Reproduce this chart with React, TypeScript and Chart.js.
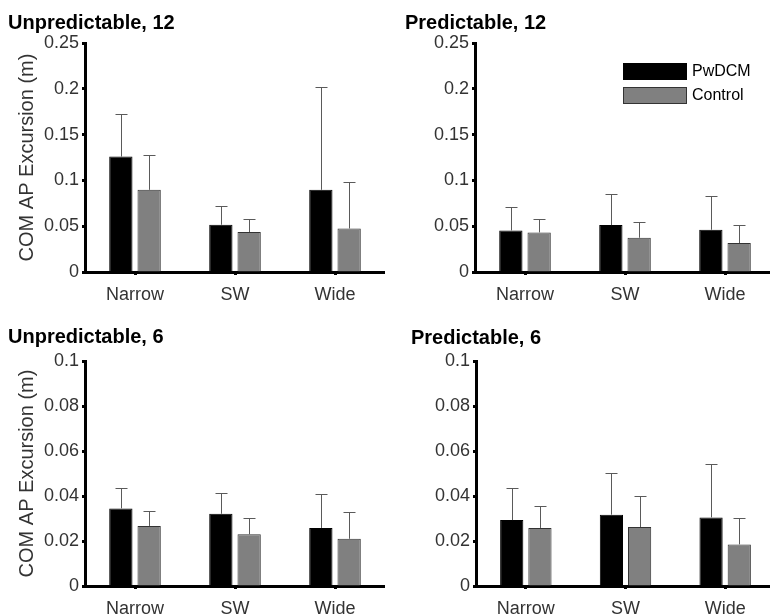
import React, { useEffect, useRef } from 'react';
import { Chart, registerables } from 'chart.js';

Chart.register(...registerables);

const FONT = '"Liberation Sans", Arial, Helvetica, sans-serif';

// ---- data ----
const categories = ['Narrow', 'SW', 'Wide'];
const seriesNames = ['PwDCM', 'Control'];

const yTicks12 = [0, 0.05, 0.1, 0.15, 0.2, 0.25];
const yTicks6 = [0, 0.02, 0.04, 0.06, 0.08, 0.1];

// Unpredictable, 12
const unpred12PwDCM = [0.126, 0.0516, 0.0897];
const unpred12PwDCMErr = [0.047, 0.02, 0.112];
const unpred12Control = [0.0897, 0.0436, 0.0475];
const unpred12ControlErr = [0.038, 0.014, 0.051];

// Predictable, 12
const pred12PwDCM = [0.0454, 0.0512, 0.0461];
const pred12PwDCMErr = [0.0255, 0.0342, 0.0368];
const pred12Control = [0.0432, 0.0374, 0.0316];
const pred12ControlErr = [0.0149, 0.0175, 0.0196];

// Unpredictable, 6
const unpred6PwDCM = [0.0345, 0.0321, 0.0258];
const unpred6PwDCMErr = [0.0092, 0.0091, 0.0149];
const unpred6Control = [0.0267, 0.023, 0.021];
const unpred6ControlErr = [0.0068, 0.0071, 0.0119];

// Predictable, 6
const pred6PwDCM = [0.0293, 0.0317, 0.0305];
const pred6PwDCMErr = [0.0143, 0.0184, 0.0239];
const pred6Control = [0.0258, 0.0262, 0.0185];
const pred6ControlErr = [0.0098, 0.0137, 0.0116];

const yAxisTitle = 'COM AP Excursion (m)';

type PanelCfg = {
  title: string;
  pwd: number[];
  pwdErr: number[];
  ctl: number[];
  ctlErr: number[];
  ticks: number[];
  left: number;
  top: number;
  width: number;
  height: number;
  padLeft: number;
  yWidth: number;
  xHeight: number;
  titlePad: [number, number];
  showYTitle: boolean;
  showLegend: boolean;
};

const panels: PanelCfg[] = [
  {
    title: 'Unpredictable, 12', pwd: unpred12PwDCM, pwdErr: unpred12PwDCMErr,
    ctl: unpred12Control, ctlErr: unpred12ControlErr, ticks: yTicks12,
    left: 0, top: 0, width: 385, height: 320, padLeft: 8, yWidth: 77, xHeight: 48,
    titlePad: [11, 8], showYTitle: true, showLegend: false,
  },
  {
    title: 'Predictable, 12', pwd: pred12PwDCM, pwdErr: pred12PwDCMErr,
    ctl: pred12Control, ctlErr: pred12ControlErr, ticks: yTicks12,
    left: 385, top: 0, width: 390, height: 320, padLeft: 20, yWidth: 70, xHeight: 48,
    titlePad: [11, 8], showYTitle: false, showLegend: true,
  },
  {
    title: 'Unpredictable, 6', pwd: unpred6PwDCM, pwdErr: unpred6PwDCMErr,
    ctl: unpred6Control, ctlErr: unpred6ControlErr, ticks: yTicks6,
    left: 0, top: 300, width: 385, height: 316, padLeft: 8, yWidth: 77, xHeight: 30,
    titlePad: [25, 12], showYTitle: true, showLegend: false,
  },
  {
    title: 'Predictable, 6', pwd: pred6PwDCM, pwdErr: pred6PwDCMErr,
    ctl: pred6Control, ctlErr: pred6ControlErr, ticks: yTicks6,
    left: 385, top: 300, width: 390, height: 316, padLeft: 26, yWidth: 65, xHeight: 30,
    titlePad: [26, 11], showYTitle: false, showLegend: false,
  },
];

const errorBarPlugin = {
  id: 'errorBars',
  afterDatasetsDraw(chart: any) {
    const ctx = chart.ctx;
    const yScale = chart.scales.y;
    ctx.save();
    ctx.strokeStyle = '#5a5a5a';
    ctx.lineWidth = 1;
    chart.data.datasets.forEach((ds: any, i: number) => {
      const meta = chart.getDatasetMeta(i);
      meta.data.forEach((el: any, j: number) => {
        const v = ds.data[j];
        const e = ds.errors[j];
        const x = Math.round(el.x) + 0.5;
        const yTop = Math.round(yScale.getPixelForValue(v + e)) + 0.5;
        const yBar = el.y;
        ctx.beginPath();
        ctx.moveTo(x, yBar);
        ctx.lineTo(x, yTop);
        ctx.moveTo(x - 6, yTop);
        ctx.lineTo(x + 6, yTop);
        ctx.stroke();
      });
    });
    ctx.restore();
  },
};

const boxLegendPlugin = {
  id: 'boxLegend',
  afterDraw(chart: any, _args: any, opts: any) {
    if (!opts || !opts.show) return;
    const { ctx, chartArea } = chart;
    const x0 = chartArea.left + 148;
    let y = chartArea.top + 20;
    ctx.save();
    chart.data.datasets.forEach((ds: any) => {
      ctx.fillStyle = ds.backgroundColor;
      ctx.fillRect(x0, y, 64, 17);
      ctx.strokeStyle = ds.borderColor;
      ctx.lineWidth = 1;
      ctx.strokeRect(x0 + 0.5, y + 0.5, 63, 16);
      ctx.fillStyle = '#000';
      ctx.font = `16px ${FONT}`;
      ctx.textBaseline = 'middle';
      ctx.textAlign = 'left';
      ctx.fillText(ds.label, x0 + 69, y + 9);
      y += 24;
    });
    ctx.restore();
  },
};

function Panel({ cfg }: { cfg: PanelCfg }) {
  const ref = useRef<HTMLCanvasElement | null>(null);
  useEffect(() => {
    if (!ref.current) return;
    const chart = new Chart(ref.current, {
      type: 'bar',
      data: {
        labels: categories,
        datasets: [
          {
            label: seriesNames[0],
            data: cfg.pwd,
            errors: cfg.pwdErr,
            backgroundColor: '#000000',
            borderColor: '#000000',
            borderWidth: 1,
            categoryPercentage: 0.566,
            barPercentage: 0.823,
          } as any,
          {
            label: seriesNames[1],
            data: cfg.ctl,
            errors: cfg.ctlErr,
            backgroundColor: '#808080',
            borderColor: '#333333',
            borderWidth: 1,
            categoryPercentage: 0.566,
            barPercentage: 0.823,
          } as any,
        ],
      },
      options: {
        responsive: false,
        animation: false,
        devicePixelRatio: 1,
        layout: { padding: { left: cfg.padLeft, right: 0, top: 0, bottom: 0 } },
        plugins: {
          legend: { display: false },
          tooltip: { enabled: false },
          title: {
            display: true,
            text: cfg.title,
            align: 'start',
            color: '#000',
            font: { family: FONT, size: 20, weight: 'bold' },
            padding: { top: cfg.titlePad[0], bottom: cfg.titlePad[1] },
          },
          boxLegend: { show: cfg.showLegend },
        } as any,
        scales: {
          x: {
            type: 'category',
            offset: true,
            afterFit: (s: any) => { s.height = cfg.xHeight; },
            border: { display: true, color: '#000', width: 3 },
            grid: {
              display: true, drawOnChartArea: false, drawTicks: true,
              offset: false, tickLength: 3, tickWidth: 3, tickColor: '#000',
            },
            ticks: {
              color: '#333',
              padding: 9,
              font: { family: FONT, size: 18 },
              maxRotation: 0,
            },
          },
          y: {
            type: 'linear',
            min: cfg.ticks[0],
            max: cfg.ticks[cfg.ticks.length - 1],
            afterFit: (s: any) => { s.width = cfg.yWidth; },
            afterBuildTicks: (s: any) => { s.ticks = cfg.ticks.map((v) => ({ value: v })); },
            border: { display: true, color: '#000', width: 3 },
            grid: {
              display: true, drawOnChartArea: false, drawTicks: true,
              tickLength: 3, tickWidth: 3, tickColor: '#000',
            },
            ticks: {
              color: '#333',
              padding: 3,
              font: { family: FONT, size: 18 },
              callback: (v: any) => String(v),
            },
            title: {
              display: cfg.showYTitle,
              text: yAxisTitle,
              color: '#333',
              font: { family: FONT, size: 20 },
              padding: { top: 7, bottom: 0 },
            },
          },
        },
      } as any,
      plugins: [errorBarPlugin, boxLegendPlugin],
    });
    return () => chart.destroy();
  }, [cfg]);
  return (
    <canvas
      ref={ref}
      width={cfg.width}
      height={cfg.height}
      style={{
        position: 'absolute',
        left: cfg.left,
        top: cfg.top,
        width: cfg.width,
        height: cfg.height,
      }}
    />
  );
}

export default function App() {
  return (
    <div
      style={{
        position: 'fixed',
        left: 0,
        top: 0,
        width: 770,
        height: 616,
        overflow: 'hidden',
        background: '#fff',
      }}
    >
      {panels.map((p) => (
        <Panel key={p.title} cfg={p} />
      ))}
    </div>
  );
}
